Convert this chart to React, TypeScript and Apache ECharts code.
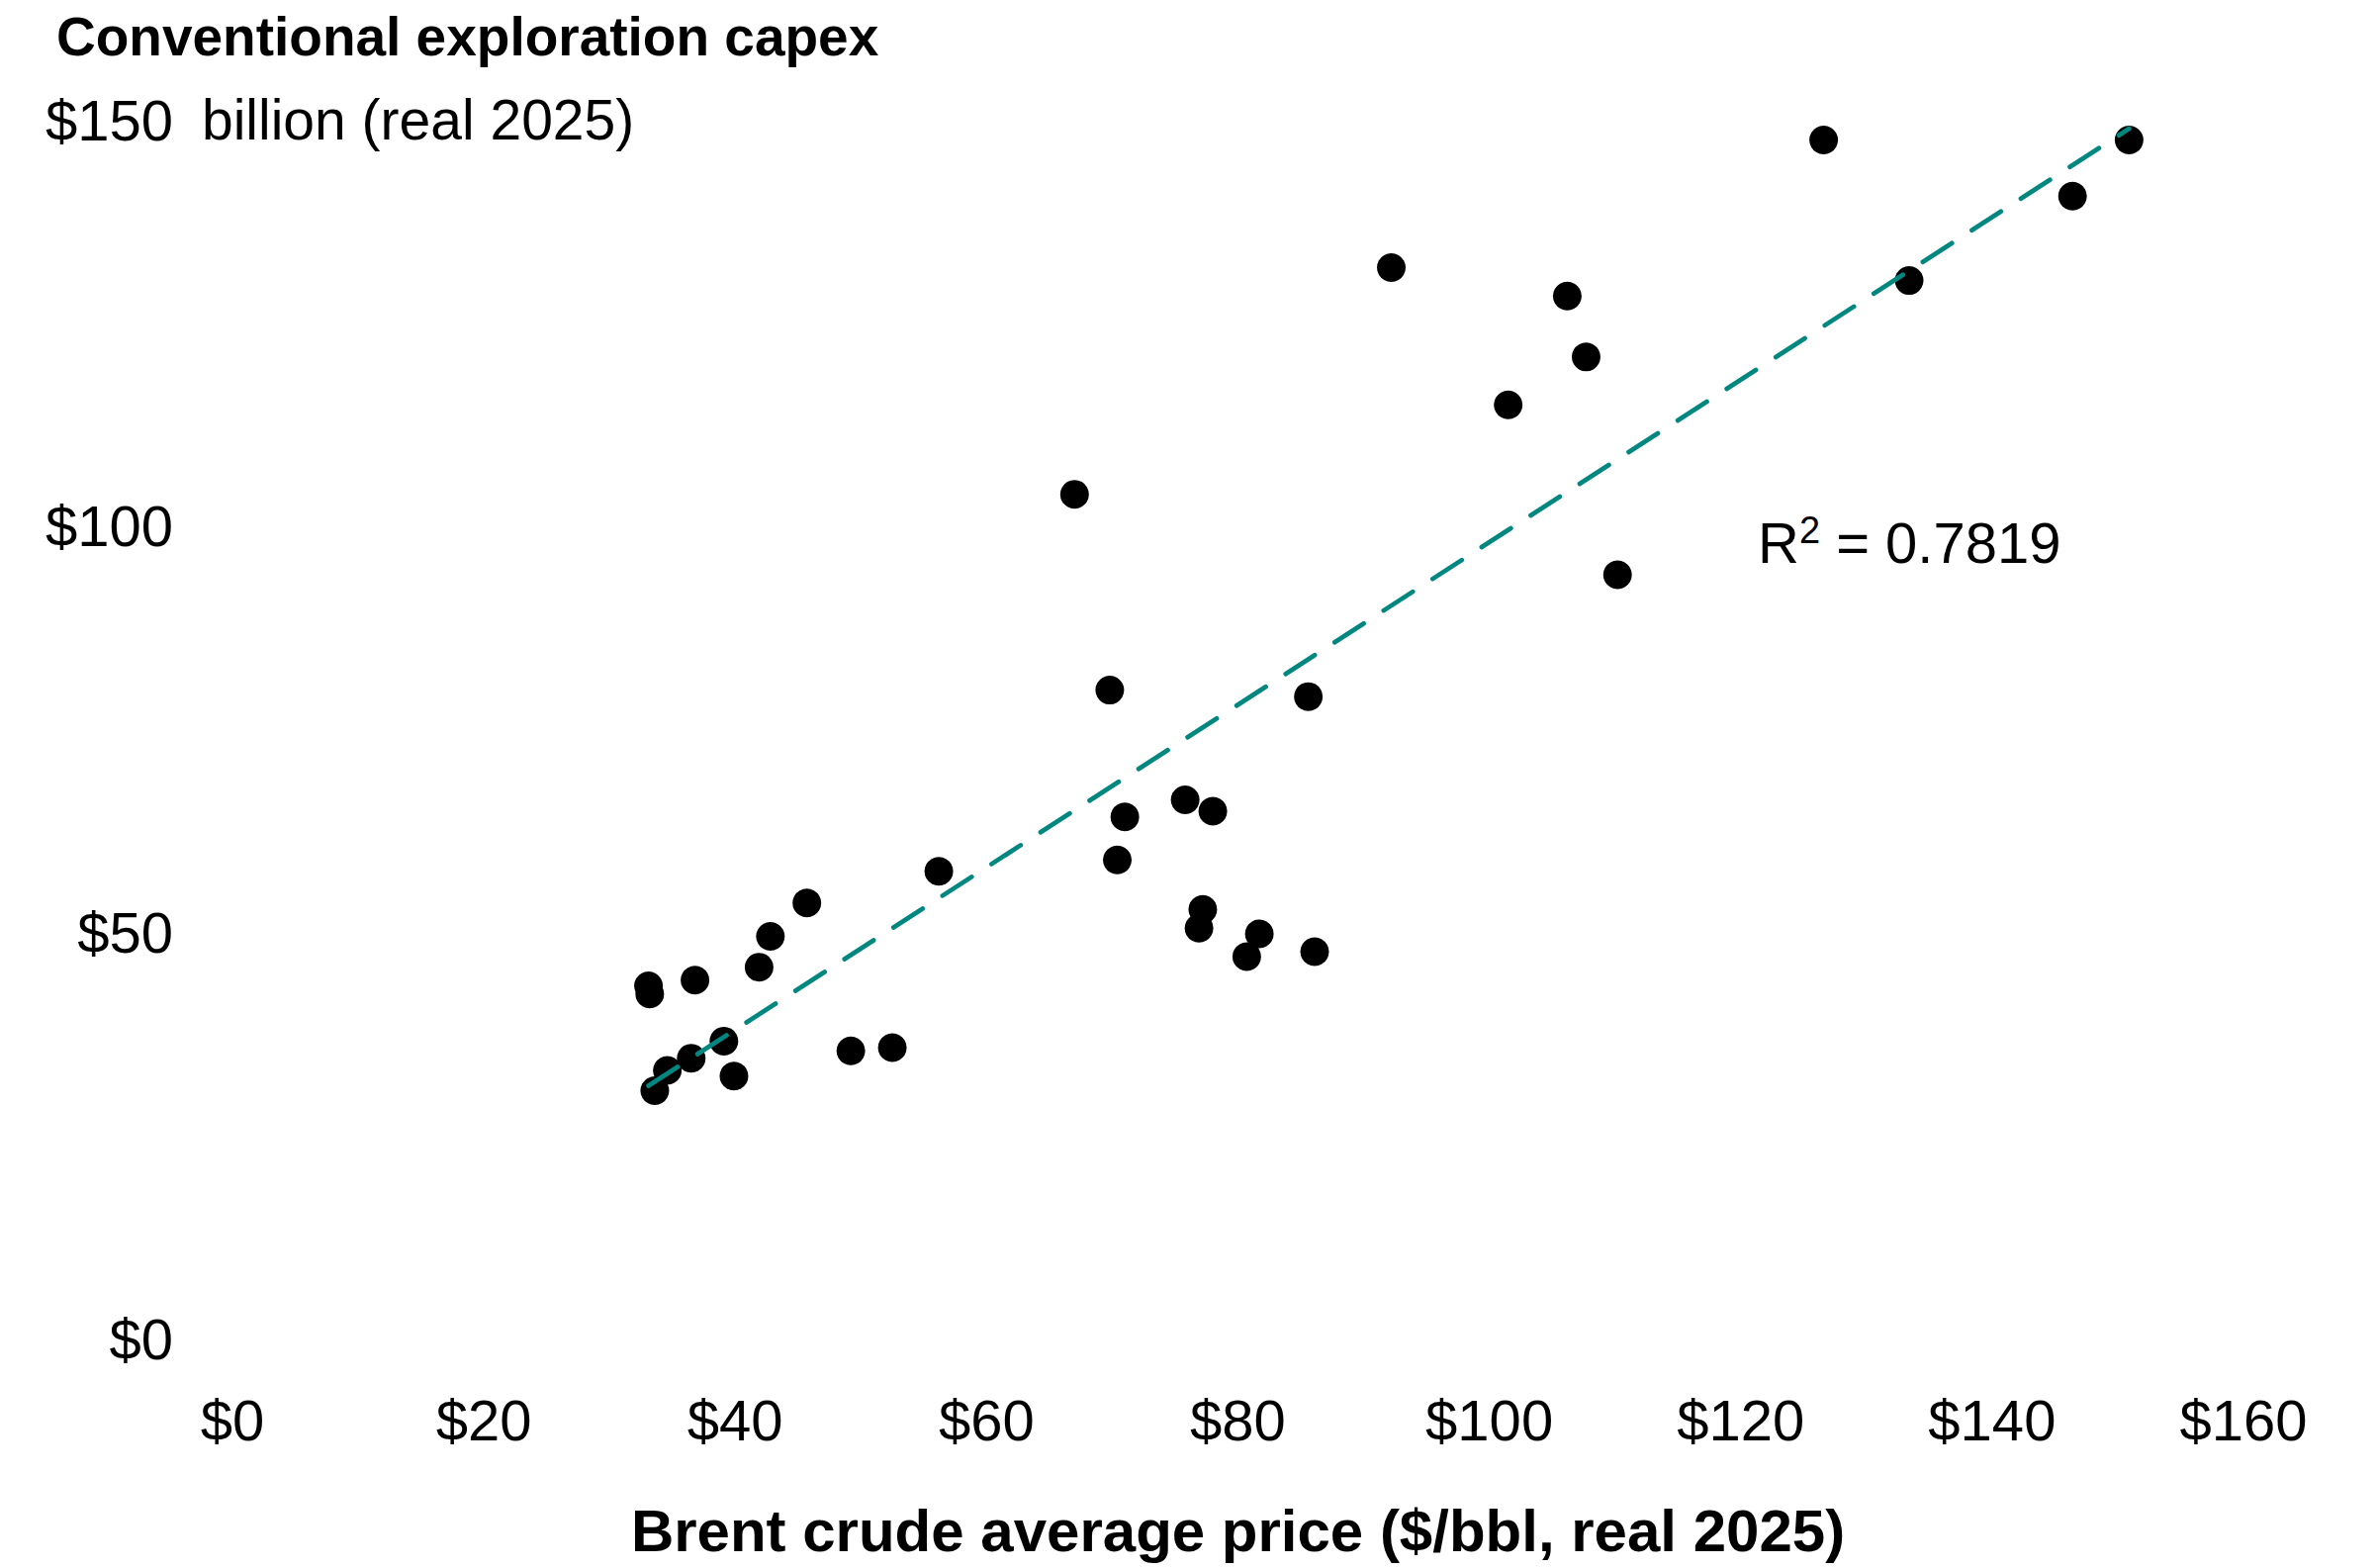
import React, { useEffect, useRef } from "react";
import * as echarts from "echarts";

// Brent crude average price ($/bbl, real 2025)
const brentPrice = [
  33.1, 33.2, 33.6, 34.6, 36.5, 36.8, 39.1, 39.9, 41.9, 42.8, 45.7, 49.2, 52.5, 56.2,
  67.0, 69.8, 70.4, 71.0, 75.8, 76.9, 77.2, 78.0, 80.7, 81.7, 85.6, 86.1,
  92.2, 101.5, 106.2, 107.7, 110.2, 126.6, 133.4, 146.4, 150.9,
];
// Conventional exploration capex ($ billion, real 2025)
const explorationCapex = [
  43.4, 42.4, 30.5, 33.0, 34.5, 44.1, 36.6, 32.3, 45.7, 49.5, 53.6, 35.4, 35.8, 57.5,
  103.9, 79.8, 58.9, 64.2, 66.3, 50.5, 52.8, 64.9, 47.0, 49.8, 79.0, 47.6,
  131.8, 114.9, 128.3, 120.8, 94.0, 147.5, 130.2, 140.6, 147.5,
];
// Linear trend line end points
const trendX = [33.1, 150.9];
const trendY = [31.1, 148.9];

const xTicks = { min: 0, max: 160, interval: 20 };
const yTicks = { min: 0, max: 150, interval: 50 };

const titleText = "Conventional exploration capex";
const unitText = "billion (real 2025)";
const xAxisTitle = "Brent crude average price ($/bbl, real 2025)";
const rSquared = "0.7819";

const FONT = "'Liberation Sans', Arial, sans-serif";

export default function App() {
  const ref = useRef<HTMLDivElement>(null);
  useEffect(() => {
    document.body.style.margin = "0";
    const chart = echarts.init(ref.current!, null, { renderer: "svg" });
    const points = brentPrice.map((x, i) => [x, explorationCapex[i]]);
    const trend = trendX.map((x, i) => [x, trendY[i]]);
    chart.setOption({
      animation: false,
      backgroundColor: "#ffffff",
      textStyle: { fontFamily: FONT },
      grid: { left: 235, right: 135, top: 121, bottom: 232 },
      xAxis: {
        type: "value",
        min: xTicks.min,
        max: xTicks.max,
        interval: xTicks.interval,
        axisLine: { show: false },
        axisTick: { show: false },
        splitLine: { show: false },
        axisLabel: {
          formatter: (v: number) => "$" + v,
          fontSize: 58,
          lineHeight: 58,
          color: "#000",
          margin: 53,
          fontFamily: FONT,
        },
        name: xAxisTitle,
        nameLocation: "middle",
        nameGap: 164,
        nameTextStyle: {
          fontSize: 60,
          lineHeight: 60,
          fontWeight: "bold",
          color: "#000",
          fontFamily: FONT,
        },
      },
      yAxis: {
        type: "value",
        min: yTicks.min,
        max: yTicks.max,
        interval: yTicks.interval,
        axisLine: { show: false },
        axisTick: { show: false },
        splitLine: { show: false },
        axisLabel: {
          formatter: (v: number) => "$" + v,
          fontSize: 58,
          lineHeight: 58,
          color: "#000",
          margin: 60,
          fontFamily: FONT,
        },
      },
      graphic: [
        {
          type: "text",
          left: 57,
          top: 9,
          style: {
            text: titleText,
            fontSize: 55,
            fontWeight: "bold",
            fill: "#000",
            fontFamily: FONT,
          },
        },
        {
          type: "text",
          left: 204,
          top: 92,
          style: {
            text: unitText,
            fontSize: 57,
            lineHeight: 58,
            fill: "#000",
            fontFamily: FONT,
          },
        },
        {
          type: "text",
          left: 1777,
          top: 517,
          style: {
            text: "{r|R}{s|2}{r| = " + rSquared + "}",
            rich: {
              r: { fontSize: 58, lineHeight: 60, fill: "#000", fontFamily: FONT, verticalAlign: "bottom" },
              s: { fontSize: 38, lineHeight: 38, fill: "#000", fontFamily: FONT, verticalAlign: "top" },
            },
          },
        },
      ],
      series: [
        {
          type: "scatter",
          data: points,
          symbol: "circle",
          symbolSize: 29,
          itemStyle: { color: "#000", opacity: 1 },
          z: 2,
        },
        {
          type: "line",
          data: trend,
          symbol: "none",
          lineStyle: {
            color: "#00877F",
            width: 4.7,
            type: [35, 24],
            cap: "round",
          },
          z: 3,
        },
      ],
    });
    return () => chart.dispose();
  }, []);
  return (
    <div
      ref={ref}
      style={{ position: "fixed", left: 0, top: 0, width: 2403, height: 1585, background: "#fff" }}
    />
  );
}
